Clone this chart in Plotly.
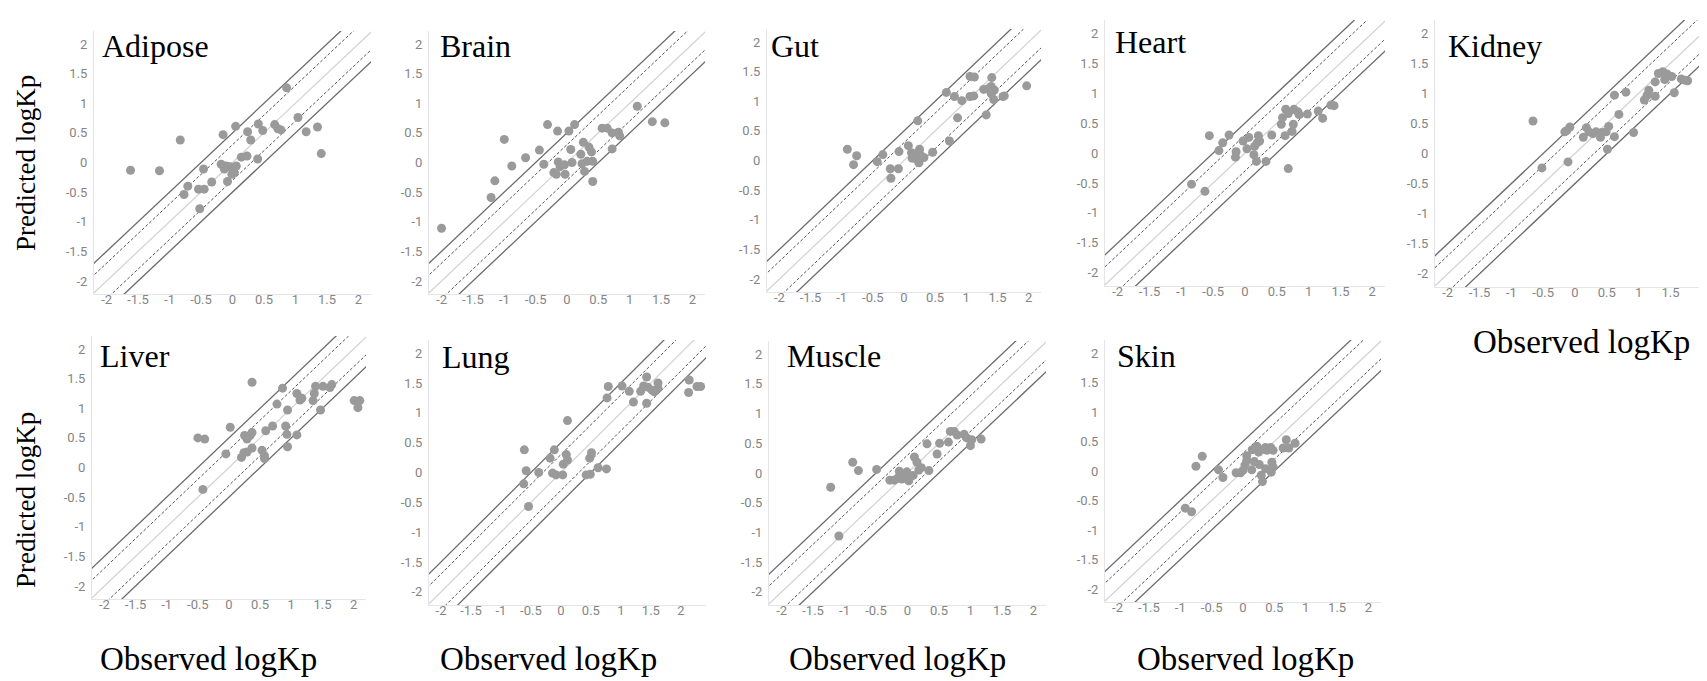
import plotly.graph_objects as go

W, H = 1707, 681

# ---------------- data (observed, predicted logKp) ----------------
adipose_obs = [-1.62, -1.16, -0.83, -0.77, -0.71, -0.54, -0.52, -0.46, -0.45, -0.33, -0.15, -0.18, -0.13, -0.08, -0.04, 0.03, 0.06, 0.05, 0.14, 0.23, 0.24, 0.29, 0.40, 0.41, 0.48, 0.67, 0.72, 0.77, 0.86, 1.04, 1.17, 1.35, 1.41, -0.10, -0.01]
adipose_pred = [-0.13, -0.14, 0.38, -0.54, -0.40, -0.45, -0.78, -0.11, -0.45, -0.33, 0.47, -0.03, -0.11, -0.32, -0.07, -0.17, -0.06, 0.61, 0.09, 0.11, 0.52, 0.38, 0.06, 0.65, 0.54, 0.64, 0.57, 0.55, 1.26, 0.76, 0.52, 0.60, 0.15, -0.06, -0.20]

brain_obs = [-2.0, -1.21, -1.15, -1.0, -0.88, -0.66, -0.44, -0.37, -0.31, -0.15, -0.21, -0.17, -0.14, -0.11, -0.04, -0.03, 0.03, 0.06, 0.08, 0.12, 0.22, 0.24, 0.26, 0.28, 0.32, 0.35, 0.39, 0.41, 0.41, 0.56, 0.64, 0.72, 0.72, 0.82, 0.84, 1.12, 1.36, 1.56]
brain_pred = [-1.11, -0.59, -0.31, 0.39, -0.06, 0.08, 0.21, -0.03, 0.64, 0.53, -0.17, -0.20, 0.01, -0.07, -0.04, -0.20, 0.53, 0.22, 0.0, 0.64, 0.14, -0.02, 0.34, -0.15, 0.02, 0.26, 0.18, 0.02, -0.32, 0.58, 0.58, 0.50, 0.23, 0.51, 0.45, 0.95, 0.69, 0.67]

gut_obs = [-0.91, -0.81, -0.76, -0.43, -0.34, -0.22, -0.21, -0.08, -0.09, 0.07, 0.12, 0.13, 0.17, 0.21, 0.22, 0.25, 0.26, 0.24, 0.32, 0.46, 0.68, 0.73, 0.81, 0.86, 0.93, 1.06, 1.13, 1.06, 1.12, 1.28, 1.32, 1.35, 1.40, 1.41, 1.42, 1.40, 1.45, 1.44, 1.59, 1.61, 1.97]
gut_pred = [0.19, -0.07, 0.08, -0.02, 0.10, -0.14, -0.30, 0.15, -0.14, 0.25, 0.13, 0.04, 0.11, 0.01, 0.67, 0.19, 0.10, -0.04, 0.05, 0.14, 1.15, 0.33, 1.08, 0.72, 1.01, 1.42, 1.41, 1.08, 1.09, 1.20, 0.77, 1.21, 1.25, 1.40, 1.17, 1.13, 1.19, 1.03, 1.08, 1.09, 1.26]

heart_obs = [-0.84, -0.63, -0.56, -0.41, -0.35, -0.25, -0.14, -0.15, -0.03, 0.03, 0.06, 0.14, 0.15, 0.19, 0.21, 0.23, 0.18, 0.33, 0.42, 0.57, 0.59, 0.64, 0.68, 0.63, 0.68, 0.74, 0.76, 0.77, 0.83, 0.85, 0.98, 1.15, 1.22, 1.35, 1.40]
heart_pred = [-0.52, -0.64, 0.29, 0.04, 0.17, 0.30, 0.02, -0.07, 0.20, 0.07, 0.26, -0.03, 0.11, 0.17, 0.29, 0.20, -0.14, -0.14, 0.30, 0.48, 0.59, 0.73, 0.66, 0.29, -0.26, 0.36, 0.48, 0.73, 0.69, 0.64, 0.65, 0.70, 0.58, 0.80, 0.79]

kidney_obs = [-0.66, -0.52, -0.16, -0.13, -0.08, -0.11, 0.13, 0.18, 0.22, 0.28, 0.33, 0.40, 0.42, 0.49, 0.53, 0.51, 0.62, 0.62, 0.69, 0.80, 0.92, 1.09, 1.13, 1.16, 1.26, 1.26, 1.31, 1.38, 1.41, 1.45, 1.52, 1.56, 1.67, 1.77, 1.73]
kidney_pred = [0.54, -0.24, 0.36, 0.38, 0.44, -0.14, 0.27, 0.43, 0.36, 0.33, 0.36, 0.27, 0.35, 0.36, 0.45, 0.07, 0.28, 0.97, 0.65, 1.02, 0.35, 0.89, 0.96, 1.05, 0.95, 1.19, 1.33, 1.36, 1.23, 1.32, 1.28, 1.01, 1.24, 1.21, 1.22]

liver_obs = [-0.50, -0.39, -0.42, -0.05, 0.02, 0.20, 0.24, 0.29, 0.25, 0.29, 0.34, 0.37, 0.37, 0.37, 0.53, 0.57, 0.57, 0.59, 0.70, 0.77, 0.86, 0.91, 0.94, 0.93, 0.94, 1.09, 1.09, 1.14, 1.17, 1.35, 1.37, 1.39, 1.47, 1.51, 1.62, 1.65, 2.01, 2.07, 2.10]
liver_pred = [0.50, 0.48, -0.37, 0.23, 0.68, 0.17, 0.25, 0.26, 0.54, 0.48, 0.54, 0.59, 0.33, 1.44, 0.29, 0.20, 0.15, 0.62, 0.70, 1.07, 1.34, 0.70, 0.97, 0.56, 0.35, 0.55, 1.25, 1.14, 1.17, 1.13, 1.25, 1.37, 0.97, 1.37, 1.35, 1.40, 1.13, 1.01, 1.13]

lung_obs = [-0.61, -0.58, -0.62, -0.54, -0.37, -0.18, -0.11, -0.14, -0.08, 0.03, 0.04, 0.09, 0.11, 0.11, 0.42, 0.48, 0.51, 0.49, 0.62, 0.76, 0.77, 0.79, 1.02, 1.14, 1.21, 1.33, 1.38, 1.43, 1.43, 1.45, 1.52, 1.56, 1.62, 1.62, 2.14, 2.13, 2.27, 2.33]
lung_pred = [0.38, 0.03, -0.19, -0.57, 0.0, 0.24, 0.38, -0.01, -0.04, -0.04, 0.14, 0.30, 0.21, 0.87, -0.04, 0.24, 0.33, -0.03, 0.08, 0.06, 1.25, 1.44, 1.45, 1.36, 1.18, 1.36, 1.45, 1.60, 1.16, 1.43, 1.38, 1.35, 1.50, 1.41, 1.55, 1.34, 1.44, 1.44]

muscle_obs = [-1.22, -1.09, -0.87, -0.78, -0.49, -0.28, -0.21, -0.16, -0.13, -0.09, -0.05, -0.01, 0.02, 0.09, 0.11, 0.15, 0.18, 0.22, 0.31, 0.34, 0.47, 0.51, 0.65, 0.68, 0.74, 0.79, 0.90, 0.94, 1.00, 1.02, 1.17]
muscle_pred = [-0.24, -1.06, 0.18, 0.04, 0.06, -0.12, -0.12, -0.09, 0.03, -0.10, -0.06, 0.02, -0.13, -0.04, 0.27, 0.18, 0.05, 0.09, 0.49, 0.04, 0.32, 0.50, 0.52, 0.70, 0.70, 0.64, 0.65, 0.59, 0.46, 0.56, 0.57]

skin_obs = [-0.92, -0.82, -0.75, -0.65, -0.39, -0.32, -0.11, -0.04, 0.0, 0.03, 0.06, 0.06, 0.14, 0.15, 0.18, 0.22, 0.25, 0.26, 0.29, 0.31, 0.33, 0.36, 0.38, 0.44, 0.46, 0.45, 0.48, 0.48, 0.64, 0.69, 0.73, 0.83, 0.36]
skin_pred = [-0.63, -0.69, 0.08, 0.25, 0.02, -0.11, -0.03, -0.03, 0.01, 0.10, 0.26, 0.18, 0.02, 0.36, 0.16, 0.42, 0.32, 0.11, -0.07, -0.18, 0.37, 0.04, 0.35, 0.40, 0.15, -0.02, 0.35, 0.07, 0.39, 0.53, 0.39, 0.47, 0.40]

tissues = ["Adipose", "Brain", "Gut", "Heart", "Kidney", "Liver", "Lung", "Muscle", "Skin"]
observed = [adipose_obs, brain_obs, gut_obs, heart_obs, kidney_obs, liver_obs, lung_obs, muscle_obs, skin_obs]
predicted = [adipose_pred, brain_pred, gut_pred, heart_pred, kidney_pred, liver_pred, lung_pred, muscle_pred, skin_pred]

tick_vals = [-2, -1.5, -1, -0.5, 0, 0.5, 1, 1.5, 2]
tick_text = ["-2", "-1.5", "-1", "-0.5", "0", "0.5", "1", "1.5", "2"]

# reference lines: y = x + offset
line_offsets = [0.5, 0.3, 0.0, -0.3, -0.5]
line_span = [-3, 3]

# ---------------- layout (pixel boxes: left, right, top, bottom) ----------------
boxes = [
    (86, 363, 23, 286), (421, 697, 23, 286), (759, 1033, 21, 284),
    (1097, 1377, 12, 278), (1427, 1707, 12, 279),
    (84, 358, 328, 591), (421, 698, 332, 597), (761, 1038, 333, 597),
    (1097, 1373, 332, 594),
]
xranges = [[-2.2, 2.2]] * 9
xranges = list(xranges)
xranges[6] = [-2.2, 2.42]
yrange = [-2.22, 2.22]

title_pos = [(92, 38), (430, 38), (761, 38), (1105, 34), (1438, 38),
             (90, 348), (432, 349), (777, 348), (1107, 348)]

fig = go.Figure()
layout = dict(width=W, height=H, margin=dict(l=0, r=0, t=0, b=0),
              paper_bgcolor="white", plot_bgcolor="white", showlegend=False)

def px2fx(p):
    return p / W

def py2fy(p):
    return 1 - p / H

tickfont = dict(family="Roboto, Arial", size=13, color="#858585")

annotations = []
for i, name in enumerate(tissues):
    n = i + 1
    xa = "x" if n == 1 else f"x{n}"
    ya = "y" if n == 1 else f"y{n}"
    l, r, t, b = boxes[i]
    layout["xaxis" if n == 1 else f"xaxis{n}"] = dict(
        domain=[px2fx(l), min(px2fx(r), 1.0)], anchor=ya, range=xranges[i],
        tickvals=tick_vals, ticktext=tick_text, showgrid=False, zeroline=False,
        showline=True, linecolor="#e4e4ea", linewidth=1, ticks="",
        tickfont=tickfont, ticklabelstandoff=-7,
    )
    layout["yaxis" if n == 1 else f"yaxis{n}"] = dict(
        domain=[py2fy(b), py2fy(t)], anchor=xa, range=yrange,
        tickvals=tick_vals, ticktext=tick_text, showgrid=False, zeroline=False,
        showline=True, linecolor="#e4e4ea", linewidth=1, ticks="",
        tickfont=tickfont, ticklabelstandoff=3,
    )
    for off in line_offsets:
        if off == 0:
            st = dict(color="#d2d2d2", width=1.2)
        elif abs(off) == 0.3:
            st = dict(color="#555555", width=1, dash="3px,2px")
        else:
            st = dict(color="#6a6a6a", width=1.3)
        fig.add_trace(go.Scatter(x=line_span, y=[v + off for v in line_span],
                                 mode="lines", line=st, xaxis=xa, yaxis=ya,
                                 hoverinfo="skip"))
    fig.add_trace(go.Scatter(x=observed[i], y=predicted[i], mode="markers",
                             marker=dict(size=9, color="#9a9a9a", line=dict(width=0)),
                             xaxis=xa, yaxis=ya, cliponaxis=False))
    tx, ty = title_pos[i]
    annotations.append(dict(text=name, xref="paper", yref="paper", x=px2fx(tx), y=py2fy(ty),
                            xanchor="left", yanchor="middle", showarrow=False,
                            font=dict(family="Liberation Serif, Times New Roman, serif", size=32, color="black")))

serif = "Liberation Serif, Times New Roman, serif"
for cy in (155, 492):
    annotations.append(dict(text="Predicted logKp", xref="paper", yref="paper", x=px2fx(18), y=py2fy(cy),
                            xanchor="center", yanchor="middle", textangle=-90, showarrow=False,
                            font=dict(family=serif, size=27, color="black")))
for cx, cy in [(200, 651), (540, 651), (889, 651), (1237, 651), (1573, 334)]:
    annotations.append(dict(text="Observed logKp", xref="paper", yref="paper", x=px2fx(cx), y=py2fy(cy),
                            xanchor="center", yanchor="middle", showarrow=False,
                            font=dict(family=serif, size=33, color="black")))

layout["annotations"] = annotations
fig.update_layout(**layout)
fig.write_html("out.html")
